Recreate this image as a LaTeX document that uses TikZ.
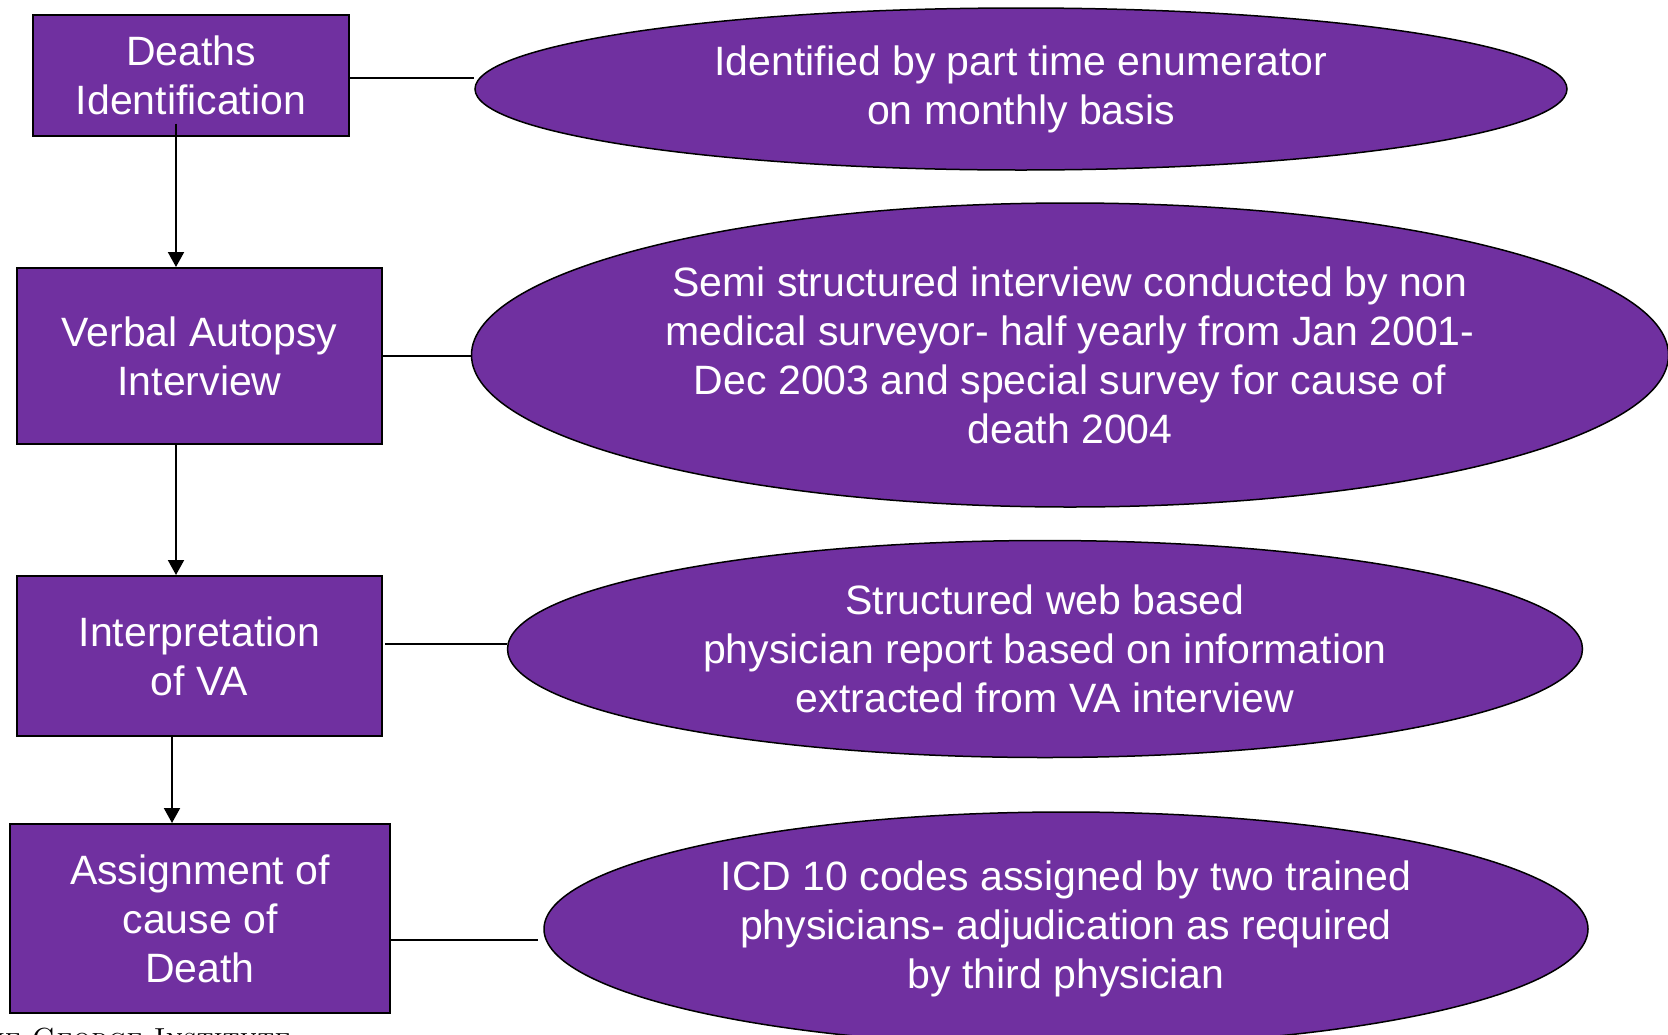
\documentclass[tikz,border=0pt]{standalone}
\usepackage{fontspec}
\newfontfamily\arialish{Liberation Sans}
\usetikzlibrary{shapes.geometric,arrows.meta}
\definecolor{vapurple}{HTML}{7030A0}
\begin{document}
\begin{tikzpicture}[x=1pt,y=-1pt,%
% common options for the step boxes:
stage/.style = {rectangle, draw, line width=2pt, fill=vapurple, text=white,
            align=center, inner sep=0, font=\arialish\fontsize{41}{49}\selectfont},
% common options for the ovals:
detail/.style = {ellipse, draw, line width=1.5pt, fill=vapurple, text=white,
            align=center, inner sep=0, font=\arialish\fontsize{41}{49}\selectfont},
flow/.style = {line width=2pt, -{Triangle[length=15pt,width=16pt]}},
link/.style = {line width=2pt}]
\useasboundingbox (0,0) rectangle (1668,1034);
\node[stage,minimum width=316pt,minimum height=121pt] (B1) at (191,75) {Deaths\\Identification};
\node[stage,minimum width=365pt,minimum height=176pt] (B2) at (199.5,356) {Verbal Autopsy\\Interview};
\node[stage,minimum width=365pt,minimum height=160pt] (B3) at (199.5,656) {Interpretation\\of VA};
\node[stage,minimum width=380pt,minimum height=189pt] (B4) at (200,918.5) {Assignment of\\cause of\\Death};
\node[detail,minimum width=1092pt,minimum height=162pt] (E1) at (1021,89) {Identified by part time enumerator\\on monthly basis};
\node[detail,minimum width=1197pt,minimum height=304pt] (E2) at (1070,355) {Semi structured interview conducted by non\\medical surveyor- half yearly from Jan 2001-\\Dec 2003 and special survey for cause of\\death 2004};
\node[detail,minimum width=1075pt,minimum height=217pt] (E3) at (1045,649) {Structured web based\\physician report based on information\\extracted from VA interview};
\node[detail,minimum width=1044pt,minimum height=234pt] (E4) at (1066,929) {ICD 10 codes assigned by two trained\\physicians- adjudication as required\\by third physician};
\node[anchor=base east,inner sep=0,font=\fontsize{29}{33}\selectfont] (logo) at (291,1048) {\textsc{The George Institute}};
\draw[flow] ([xshift=-15pt,yshift=13pt]B1.south) to ([xshift=-23.5pt]B2.north);
\draw[flow] ([xshift=-23.5pt]B2.south) to ([xshift=-23.5pt]B3.north);
\draw[flow] ([xshift=-27.5pt]B3.south) to ([xshift=-28pt]B4.north);
\draw[link] ([yshift=-3pt]B1.east) to ([yshift=11pt]E1.west);
\draw[link] (B2.east) to ([yshift=-1pt]E2.west);
\draw[link] ([xshift=2pt,yshift=12pt]B3.east) to ([yshift=5pt]E3.west);
\draw[link] ([yshift=-21.5pt]B4.east) to ([xshift=-5pt,yshift=-11pt]E4.west);
\end{tikzpicture}
\end{document}
